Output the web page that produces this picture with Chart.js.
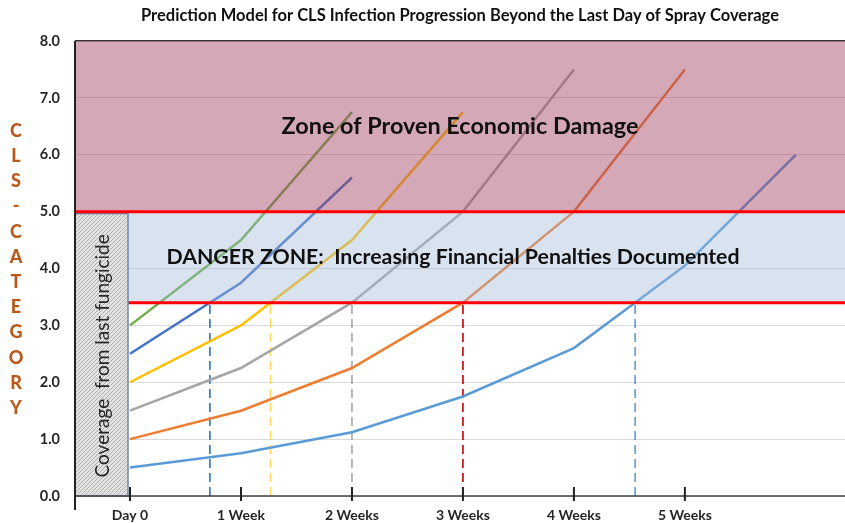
<!DOCTYPE html>
<html>
<head>
<meta charset="utf-8">
<script src="https://cdn.jsdelivr.net/npm/chart.js@4.4.1/dist/chart.umd.min.js"></script>
<style>
  html, body { margin: 0; padding: 0; background: #fff; }
</style>
</head>
<body>
<canvas id="chart-cls" width="845" height="523"></canvas>
<script>
// days after the last day of spray coverage
const weekDays = [0, 7, 14, 21, 28, 35, 42];
const tickDays = [0, 7, 14, 21, 28, 35];
const tickLabels = ['Day 0', '1 Week', '2 Weeks', '3 Weeks', '4 Weeks', '5 Weeks'];

// CLS category per week, one series per starting category
const cls05 = [0.5, 0.75, 1.12, 1.75, 2.6, 4.05, 6.0];
const cls10 = [1.0, 1.5, 2.25, 3.4, 5.0, 7.5];
const cls15 = [1.5, 2.25, 3.4, 5.0, 7.5];
const cls20 = [2.0, 3.0, 4.5, 6.75];
const cls25 = [2.5, 3.75, 5.6];
const cls30 = [3.0, 4.5, 6.75];

const dangerFrom = 3.4;
const damageFrom = 5.0;
const yMax = 8.0;

const FONT = 'Lato';
Chart.defaults.font.family = FONT;

const toPoints = (vals) => vals.map((v, i) => ({ x: weekDays[i], y: v }));

// day where a series reaches the danger threshold
function crossDay(vals) {
  for (let i = 1; i < vals.length; i++) {
    if (vals[i] >= dangerFrom) {
      const t = (dangerFrom - vals[i - 1]) / (vals[i] - vals[i - 1]);
      return weekDays[i - 1] + t * (weekDays[i] - weekDays[i - 1]);
    }
  }
  return null;
}

const lineSet = (vals, color) => ({
  data: toPoints(vals),
  borderColor: color,
  borderWidth: 2.5,
  pointRadius: 0,
  tension: 0,
  fill: false,
});

const dropSet = (vals, color) => {
  const d = crossDay(vals);
  return {
    data: [{ x: d, y: 0 }, { x: d, y: dangerFrom }],
    borderColor: color,
    borderWidth: 1.6,
    borderDash: [9, 5],
    pointRadius: 0,
    fill: false,
  };
};

const ctx = document.getElementById('chart-cls');

// hatch fill for the coverage box
const pc = document.createElement('canvas');
pc.width = 4; pc.height = 4;
const p = pc.getContext('2d');
p.fillStyle = '#e2e2e2';
p.fillRect(0, 0, 4, 4);
p.strokeStyle = '#b0b0b0';
p.lineWidth = 1;
p.beginPath();
p.moveTo(0, 4); p.lineTo(4, 0);
p.moveTo(-1, 1); p.lineTo(1, -1);
p.moveTo(3, 5); p.lineTo(5, 3);
p.stroke();

const zones = {
  id: 'zones',
  afterDatasetsDraw(chart) {
    const { ctx: c, chartArea: a, scales: { x, y } } = chart;
    const yTop = y.getPixelForValue(yMax);
    const yDmg = y.getPixelForValue(damageFrom);
    const yDng = y.getPixelForValue(dangerFrom);
    const w = a.right - a.left;
    c.save();
    c.fillStyle = 'rgba(165, 70, 105, 0.47)';
    c.fillRect(a.left, yTop, w, yDmg - yTop);
    c.fillStyle = 'rgba(160, 185, 218, 0.4)';
    c.fillRect(a.left, yDmg, w, yDng - yDmg);

    c.strokeStyle = '#ff0000';
    c.lineWidth = 3;
    c.beginPath(); c.moveTo(a.left, yDng); c.lineTo(a.right, yDng); c.stroke();

    // coverage box
    const bx = x.getPixelForValue(0) - 2;
    c.fillStyle = c.createPattern(pc, 'repeat');
    c.fillRect(a.left, yDmg, bx - a.left, a.bottom - yDmg);
    c.strokeStyle = '#6f89aa';
    c.lineWidth = 1.5;
    c.strokeRect(a.left, yDmg + 2, bx - a.left, a.bottom - yDmg - 2);

    c.strokeStyle = '#ff0000';
    c.lineWidth = 3;
    c.beginPath(); c.moveTo(a.left, yDmg); c.lineTo(a.right, yDmg); c.stroke();

    c.save();
    c.translate((a.left + bx) / 2 + 1, (yDmg + a.bottom) / 2 + 2);
    c.rotate(-Math.PI / 2);
    c.fillStyle = '#262626';
    c.font = '19px ' + FONT;
    c.textAlign = 'center';
    c.textBaseline = 'middle';
    c.fillText('Coverage  from last fungicide', 0, 0);
    c.restore();

    c.fillStyle = '#111';
    c.textAlign = 'center';
    c.textBaseline = 'middle';
    c.font = 'bold 23.4px ' + FONT;
    c.fillText('Zone of Proven Economic Damage', a.left + 385, y.getPixelForValue(6.5));
    c.font = 'bold 21.3px ' + FONT;
    c.fillText('DANGER ZONE:  Increasing Financial Penalties Documented', a.left + 378, y.getPixelForValue(4.2));

    // axes
    c.strokeStyle = '#404040';
    c.lineWidth = 1.5;
    c.beginPath(); c.moveTo(a.left, a.bottom); c.lineTo(a.right, a.bottom); c.stroke();
    c.strokeStyle = '#222';
    c.lineWidth = 2;
    c.beginPath(); c.moveTo(a.left, a.top); c.lineTo(a.left, a.bottom + 14); c.stroke();
    tickDays.forEach((d) => {
      const px = x.getPixelForValue(d);
      c.beginPath(); c.moveTo(px, a.bottom - 9); c.lineTo(px, a.bottom + 5); c.stroke();
    });
    c.restore();
  },
  afterDraw(chart) {
    const { ctx: c, chartArea: a } = chart;
    c.save();
    c.fillStyle = '#111';
    c.font = 'bold 16.5px ' + FONT;
    c.textAlign = 'center';
    c.textBaseline = 'middle';
    c.fillText('Prediction Model for CLS Infection Progression Beyond the Last Day of Spray Coverage', a.left + 385, 16);
    c.fillStyle = '#b85a1c';
    c.font = '900 18px ' + FONT;
    'CLS-CATEGORY'.split('').forEach((ch, i) => c.fillText(ch, 16, 131 + i * 25.2));
    c.restore();
  }
};

new Chart(ctx, {
  type: 'line',
  data: {
    datasets: [
      lineSet(cls30, '#70ad47'),
      lineSet(cls25, '#4472c4'),
      lineSet(cls20, '#ffc000'),
      lineSet(cls15, '#a5a5a5'),
      lineSet(cls10, '#ed7d31'),
      lineSet(cls05, '#5b9bd5'),
      dropSet(cls25, '#2e75b6'),
      dropSet(cls20, '#ffd966'),
      dropSet(cls15, '#a5a5a5'),
      dropSet(cls10, '#c00000'),
      dropSet(cls05, '#5b9bd5'),
    ]
  },
  options: {
    responsive: false,
    animation: false,
    layout: { padding: { top: 41, left: 0, right: 0, bottom: 0 } },
    plugins: {
      legend: { display: false },
      tooltip: { enabled: false },
      title: { display: false }
    },
    scales: {
      x: {
        type: 'linear',
        min: -3.47,
        max: 45.1,
        afterBuildTicks: (s) => { s.ticks = tickDays.map((v) => ({ value: v })); },
        afterFit: (s) => { s.height = 27; },
        ticks: {
          callback: (v) => tickLabels[tickDays.indexOf(v)],
          color: '#262626',
          font: { weight: 'bold', size: 14 },
          padding: 11,
          maxRotation: 0,
          autoSkip: false
        },
        grid: { display: false, drawTicks: false },
        border: { display: false }
      },
      y: {
        min: 0,
        max: yMax,
        afterFit: (s) => { s.width = 75; },
        ticks: {
          stepSize: 1,
          callback: (v) => v.toFixed(1),
          color: '#262626',
          font: { weight: 'bold', size: 14.5 },
          padding: 15
        },
        grid: {
          drawTicks: false,
          color: (c) => c.tick && c.tick.value === yMax ? '#333' : '#d9d9d9',
          lineWidth: (c) => c.tick && c.tick.value === yMax ? 1.5 : 1
        },
        border: { display: false }
      }
    }
  },
  plugins: [zones]
});
</script>
</body>
</html>
